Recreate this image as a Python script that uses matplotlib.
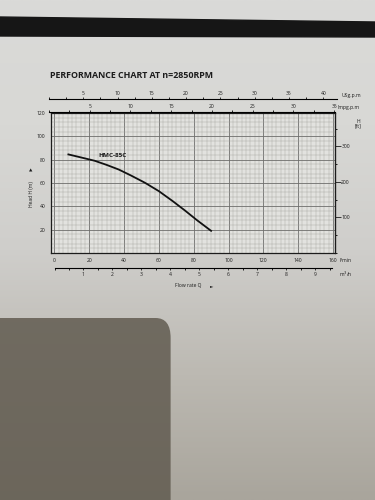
import numpy as np
import matplotlib.pyplot as plt
from matplotlib.patches import Polygon, FancyBboxPatch
from matplotlib.ticker import MultipleLocator

# curve (l/min, m)
flow_lpm = [8, 15, 23, 30, 37, 44, 52, 60, 68, 75, 82, 90]
head_m = [84.5, 82.0, 79.1, 75.5, 71.5, 66.4, 60.2, 53.0, 44.4, 36.4, 28.0, 19.0]
curve_name = 'HMC-85C'

lpm_ticks = [0, 20, 40, 60, 80, 100, 120, 140, 160]
head_ticks = [20, 40, 60, 80, 100, 120]
ft_ticks = [100, 200, 300]
usg_ticks = [5, 10, 15, 20, 25, 30, 35, 40]
imp_ticks = [5, 10, 15, 20, 25, 30, 35]
m3h_ticks = [1, 2, 3, 4, 5, 6, 7, 8, 9]

W, H = 375, 500
fs = 3.6
ink = '#1c1c1c'

def box(x0, y0, x1, y1):
    return [x0 / W, 1 - y1 / H, (x1 - x0) / W, (y1 - y0) / H]

fig = plt.figure(figsize=(W / 100, H / 100), dpi=100)
plt.rcParams['font.family'] = ['Open Sans', 'DejaVu Sans']

# photo background: page gradient, black band, shadow
bg = fig.add_axes([0, 0, 1, 1])
grad = np.linspace(0, 1, 200)[:, None]
bg.imshow(grad, cmap=plt.matplotlib.colors.LinearSegmentedColormap.from_list(
    'pg', ['#dadad8', '#d8d8d5', '#cfcecb', '#bcb9b2', '#a9a59c']), aspect='auto',
    extent=[0, 1, 0, 1], origin='upper')
bg.set_xlim(0, 1)
bg.set_ylim(0, 1)
bg.axis('off')
bg.add_patch(Polygon([(0, 1 - 17 / H), (1, 1 - 22 / H), (1, 1 - 37 / H), (0, 1 - 36 / H)],
                     closed=True, color='#161616', transform=bg.transAxes))
bg.add_patch(FancyBboxPatch((-0.1, -0.1), 0.555, 0.1 + 182 / H,
                            boxstyle='round,pad=0,rounding_size=0.04',
                            color='#615b50', alpha=0.85, transform=bg.transAxes, lw=0))

fig.text(50 / W, 1 - 75 / H, 'PERFORMANCE CHART AT n=2850RPM', fontsize=6.4,
         fontweight='bold', color=ink, va='center', ha='left')

# main chart
ax = fig.add_axes(box(51, 113, 335, 253))
ax.set_facecolor('#e2e2df')
ax.set_xlim(-2, 161.2)
ax.set_ylim(0, 120)
for x in np.arange(0, 161, 2.5):
    ax.axvline(x, color='#6e6e6c' if x % 20 == 0 else '#a4a4a0',
               lw=0.6 if x % 20 == 0 else 0.3, zorder=1)
for y in np.arange(0, 121, 4):
    ax.axhline(y, color='#6e6e6c' if y % 20 == 0 else '#a4a4a0',
               lw=0.6 if y % 20 == 0 else 0.3, zorder=1)
ax.plot(flow_lpm, head_m, color='#111111', lw=1.3, zorder=3)
ax.text(25, 83.5, curve_name, fontsize=4.6, fontweight='bold', color=ink,
        va='center', ha='left', zorder=4)
ax.set_xticks(lpm_ticks)
ax.set_yticks(head_ticks)
ax.tick_params(axis='both', length=0, labelsize=fs, colors=ink)
ax.tick_params(axis='x', pad=3.5)
ax.tick_params(axis='y', pad=4)
for s in ax.spines.values():
    s.set_color(ink)
    s.set_linewidth(0.9)

ft = ax.secondary_yaxis('right', functions=(lambda m: m * 3.281, lambda f: f / 3.281))
ft.set_yticks(ft_ticks)
ft.yaxis.set_minor_locator(MultipleLocator(50))
ft.tick_params(which='major', length=4, width=0.6, labelsize=fs, colors=ink, pad=0.5)
ft.tick_params(which='minor', length=1.5, width=0.6)
ft.set_yticklabels([str(t) for t in ft_ticks])

fig.text(340 / W, 1 - 260 / H, 'l/min', fontsize=fs, color=ink, va='center')
fig.text(358 / W, 1 - 124 / H, 'H\n[ft]', fontsize=fs, color=ink, va='center',
         ha='center', linespacing=0.9)

# Imp gallons scale on top edge
imp = fig.add_axes(box(49, 112, 335, 112.5))
imp.set_xlim(0, 35.1)
imp.set_xticks(imp_ticks)
imp.xaxis.set_minor_locator(MultipleLocator(2.5))
for k in ['left', 'right', 'bottom']:
    imp.spines[k].set_visible(False)
imp.spines['top'].set_linewidth(0.8)
imp.set_yticks([])
imp.xaxis.tick_top()
imp.tick_params(axis='x', which='major', length=1.5, width=0.6, labelsize=fs, colors=ink, pad=0.8)
imp.tick_params(axis='x', which='minor', length=1.5, width=0.6)
imp.patch.set_visible(False)
fig.text(338 / W, 1 - 107 / H, 'Impg.p.m', fontsize=fs, color=ink, va='center')

# US gallons scale
usg = fig.add_axes(box(49, 99, 337, 99.5))
usg.set_xlim(0, 42)
usg.set_xticks(usg_ticks)
usg.xaxis.set_minor_locator(MultipleLocator(2.5))
for k in ['left', 'right', 'bottom']:
    usg.spines[k].set_visible(False)
usg.spines['top'].set_linewidth(0.8)
usg.set_yticks([])
usg.xaxis.tick_top()
usg.tick_params(axis='x', which='major', length=1.5, width=0.6, labelsize=fs, colors=ink, pad=0.8)
usg.tick_params(axis='x', which='minor', length=1.5, width=0.6)
usg.patch.set_visible(False)
fig.text(341 / W, 1 - 96 / H, 'USg.p.m', fontsize=fs, color=ink, va='center')

# m3/h scale
m3 = fig.add_axes(box(54.5, 267.5, 331.7, 268))
m3.set_xlim(0, 9.57)
m3.set_xticks(m3h_ticks)
m3.xaxis.set_minor_locator(MultipleLocator(0.5))
for k in ['left', 'right', 'top']:
    m3.spines[k].set_visible(False)
m3.spines['bottom'].set_linewidth(0.8)
m3.set_yticks([])
m3.tick_params(axis='x', which='major', length=1.5, width=0.6, labelsize=fs, colors=ink, pad=1.5)
m3.tick_params(axis='x', which='minor', length=1.5, width=0.6)
m3.patch.set_visible(False)
fig.text(339 / W, 1 - 274 / H, 'm$^3$/h', fontsize=fs, color=ink, va='center')

# axis titles
fig.text(188 / W, 1 - 286 / H, 'Flow rate Q', fontsize=fs, color=ink, va='center', ha='center')
fig.text(212 / W, 1 - 286 / H, '\u25ba', fontsize=3.2, color=ink, va='center', ha='center',
         family='DejaVu Sans')
fig.text(31 / W, 1 - 194 / H, 'Head H (m)', fontsize=fs, color=ink, va='center', ha='center',
         rotation=90)
fig.text(31 / W, 1 - 170 / H, '\u25b2', fontsize=3.2, color=ink, va='center', ha='center',
         family='DejaVu Sans')

fig.savefig('out.png', dpi=100)
